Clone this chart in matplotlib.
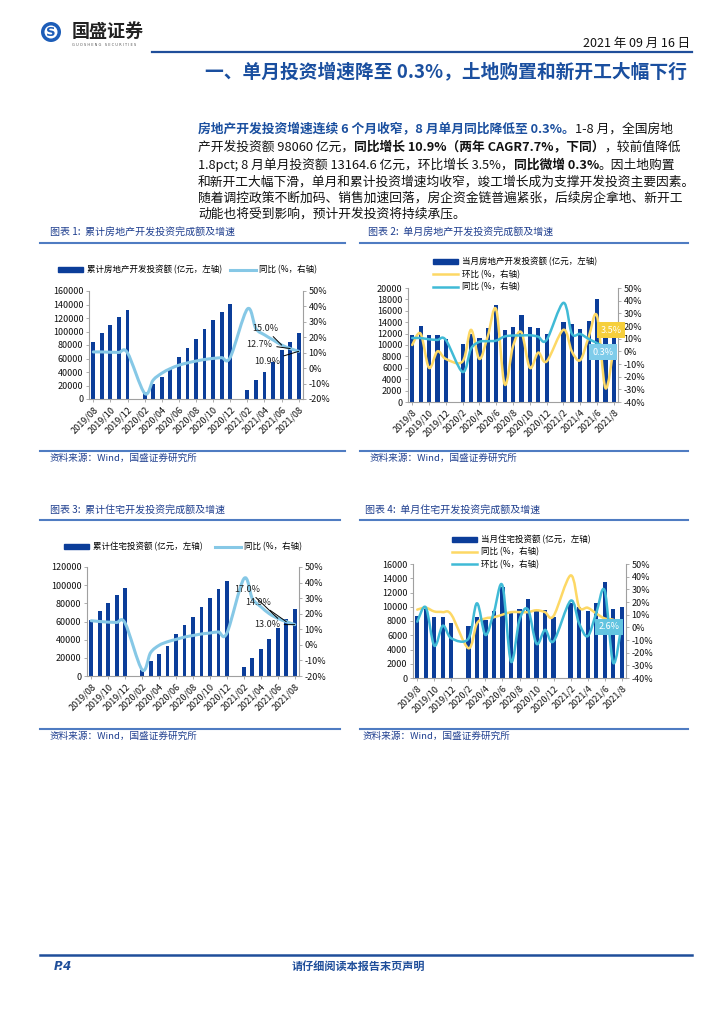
import numpy as np
import matplotlib
matplotlib.use('Agg')
import matplotlib.pyplot as plt
from matplotlib.path import Path
from matplotlib.patches import PathPatch, Patch, Circle
from matplotlib.lines import Line2D

plt.rcParams['font.family'] = ['Noto Sans CJK SC', 'DejaVu Sans']
plt.rcParams['axes.unicode_minus'] = False

nan = np.nan

# months 2019/08 .. 2021/08 (January has no release, combined with February)
months = ['2019/08', '2019/09', '2019/10', '2019/11', '2019/12',
          '2020/01', '2020/02', '2020/03', '2020/04', '2020/05', '2020/06',
          '2020/07', '2020/08', '2020/09', '2020/10', '2020/11', '2020/12',
          '2021/01', '2021/02', '2021/03', '2021/04', '2021/05', '2021/06',
          '2021/07', '2021/08']
months_short = [m.split('/')[0] + '/' + str(int(m.split('/')[1])) for m in months]

# chart 1: cumulative real estate development investment (100m yuan) and yoy %
cum_invest = [84589, 98008, 109603, 121265, 132194, nan, 10115, 21963, 33103, 45920,
              62780, 75458, 88454, 103484, 116556, 129492, 141443, nan, 13986, 27576,
              40240, 54318, 72179, 84895, 98060]
cum_invest_yoy = [10.5, 10.5, 10.3, 10.2, 9.9, nan, -16.3, -7.7, -3.3, -0.3, 1.9, 3.4,
                  4.6, 5.6, 6.3, 6.8, 7.0, nan, 38.3, 25.6, 21.6, 18.3, 15.0, 12.7, 10.9]

# chart 2: monthly real estate development investment, mom and yoy %
mon_invest = [11800, 13400, 11700, 11700, 11000, nan, 10100, 12000, 11300, 12900,
              17000, 12600, 13200, 15300, 13100, 13000, 12000, nan, 14000, 13700,
              12800, 14200, 18000, 12700, 13165]
mon_invest_mom = [5, 14, -13, 0, -6, nan, -8, 17, -6, 12, 33, -26, 4, 15, -13, -1, -8,
                  nan, 17, 0, -7, 11, 28, -29, 3.5]
mon_invest_yoy = [10.5, 10.5, 9.5, 9, 9, nan, -16.3, 2, 7.5, 8, 8.5, 11.7, 12.5, 12.5,
                  12.7, 11.6, 9, nan, 38.3, 14, 13.7, 9.8, 6.5, 3, 0.3]

# chart 3: cumulative residential investment and yoy %
cum_resi = [62000, 71500, 80400, 88800, 97070, nan, 6500, 16100, 23900, 33000, 45900,
            55800, 65000, 76300, 85900, 95400, 104446, nan, 10300, 20200, 30100, 40400,
            53200, 63100, 73800]
cum_resi_yoy = [15.5, 15, 14.6, 14.4, 13.9, nan, -16.0, -5, -0.3, 2, 3.5, 5, 6, 7, 7.6,
                8.3, 7.6, nan, 42.5, 29.7, 24.5, 20, 17.0, 14.9, 13.0]

# chart 4: monthly residential investment, yoy and mom %
mon_resi = [8700, 9900, 8500, 8500, 7750, nan, 7300, 8600, 8100, 9400, 12800, 9100,
            9750, 11100, 9400, 9500, 8550, nan, 10500, 10000, 9450, 10550, 13500, 9700,
            9950]
mon_resi_yoy = [14, 15.5, 12.5, 12, 10, nan, -16.5, 3, 7, 8, 10, 12, 12, 12, 13.5, 12,
                9, nan, 41, 16, 15.5, 11, 7, 6, 2.6]
mon_resi_mom = [4.5, 15.8, -14.5, 1.3, -8.7, nan, -9, 19, -6, 12, 33, -27, 6, 14, -13,
                -2, -11, nan, 21, 3, -7, 11, 29, -28, 2.6]

W, H = 724, 1024
BAR = '#0B3D99'
LIGHT = '#86C8E6'
YELLOW = '#FDD865'
CYAN = '#40BAD6'
NAVY = '#1F3F8F'
RULE = '#4F7CC2'
DARK_BLUE = '#1F4E9A'
TICK_FS = 6.5


def fx(x):
    return x / W


def fy(y):
    return 1 - y / H


def smooth_path(xs, ys):
    # Catmull-Rom style bezier through the points, like Excel's smoothed line
    p = np.array([(x, y) for x, y in zip(xs, ys) if not np.isnan(y)], float)
    verts = [p[0]]
    codes = [Path.MOVETO]
    n = len(p)
    for i in range(n - 1):
        p0 = p[i - 1] if i > 0 else p[i]
        p3 = p[i + 2] if i + 2 < n else p[i + 1]
        verts += [p[i] + (p[i + 1] - p0) / 6, p[i + 1] - (p3 - p[i]) / 6, p[i + 1]]
        codes += [Path.CURVE4] * 3
    return Path(verts, codes)


fig = plt.figure(figsize=(W / 100, H / 100), dpi=100)


def hline(x0, x1, y, color, lw):
    fig.add_artist(Line2D([fx(x0), fx(x1)], [fy(y), fy(y)], transform=fig.transFigure,
                          color=color, lw=lw))


def draw_chart(box, bars, lines, ylim_l, step_l, ylim_r, step_r, labels, bar_w):
    left, top, right, bottom = box
    ax = fig.add_axes([fx(left), fy(bottom), (right - left) / W, (bottom - top) / H])
    x = np.arange(len(months))
    ax.bar(x, bars, width=bar_w, color=BAR, zorder=2)
    ax.set_xlim(-0.5, len(x) - 0.5)
    ax.set_ylim(*ylim_l)
    ax.set_yticks(np.arange(ylim_l[0], ylim_l[1] + 1, step_l))
    ax.set_yticklabels([str(v) for v in np.arange(ylim_l[0], ylim_l[1] + 1, step_l)])
    ax.set_xticks(x[::2])
    ax.set_xticklabels(labels[::2], rotation=45, ha='right', rotation_mode='anchor')
    ax.tick_params(axis='both', labelsize=TICK_FS, length=2.5, width=0.6, color='#A0A0A0',
                   pad=1.5, labelcolor='#111111')
    for s in ['top', 'right']:
        ax.spines[s].set_visible(False)
    for s in ['left', 'bottom']:
        ax.spines[s].set_color('#A0A0A0')
        ax.spines[s].set_linewidth(0.8)

    ax2 = ax.twinx()
    ax2.set_ylim(*ylim_r)
    rt = np.arange(ylim_r[0], ylim_r[1] + 1, step_r)
    ax2.set_yticks(rt)
    ax2.set_yticklabels([f'{v}%' for v in rt])
    ax2.tick_params(axis='y', labelsize=TICK_FS, length=2.5, width=0.6, color='#A0A0A0',
                    pad=1.5, labelcolor='#111111')
    for s in ['top', 'left', 'bottom']:
        ax2.spines[s].set_visible(False)
    ax2.spines['right'].set_color('#A0A0A0')
    ax2.spines['right'].set_linewidth(0.8)
    for vals, color, lw in lines:
        ax2.add_patch(PathPatch(smooth_path(x, vals), fill=False, edgecolor=color, lw=lw,
                                capstyle='round', joinstyle='round'))
    return ax, ax2


# ---------------- header ----------------
fig.add_artist(Circle((51 / 100, (H - 32) / 100), 10 / 100, transform=fig.dpi_scale_trans,
                      fc='#1D5DB8', ec='none'))
fig.add_artist(Circle((51 / 100, (H - 32) / 100), 6.5 / 100, transform=fig.dpi_scale_trans,
                      fc='white', ec='none'))
fig.text(fx(51), fy(32.5), 'S', color='#1D5DB8', fontsize=9.5, fontweight='bold',
         ha='center', va='center', family='DejaVu Sans')
fig.text(fx(72), fy(31), '国盛证券', fontsize=13, fontweight='bold', color='#222222',
         ha='left', va='center')
fig.text(fx(72), fy(45), 'G U O S H E N G   S E C U R I T I E S', fontsize=2.6,
         color='#555555', ha='left', va='center', family='DejaVu Sans')
fig.text(fx(690), fy(43), '2021 年 09 月 16 日', fontsize=9, color='#111111',
         ha='right', va='center')
hline(152, 692, 52, DARK_BLUE, 1.6)
fig.text(fx(687), fy(73), '一、单月投资增速降至 0.3%，土地购置和新开工大幅下行', fontsize=13.5,
         fontweight='bold', color='#1A4F9F', ha='right', va='center')

# ---------------- paragraph ----------------
renderer = fig.canvas.get_renderer()
para = [
    [('房地产开发投资增速连续 6 个月收窄，8 月单月同比降低至 0.3%。', '#1A4F9F', 'bold'),
     ('1-8 月，全国房地', '#111111', 'normal')],
    [('产开发投资额 98060 亿元，', '#111111', 'normal'),
     ('同比增长 10.9%（两年 CAGR7.7%，下同）', '#111111', 'bold'),
     ('，较前值降低', '#111111', 'normal')],
    [('1.8pct; 8 月单月投资额 13164.6 亿元，环比增长 3.5%，', '#111111', 'normal'),
     ('同比微增 0.3%', '#111111', 'bold'),
     ('。因土地购置', '#111111', 'normal')],
    [('和新开工大幅下滑，单月和累计投资增速均收窄，竣工增长成为支撑开发投资主要因素。', '#111111', 'normal')],
    [('随着调控政策不断加码、销售加速回落，房企资金链普遍紧张，后续房企拿地、新开工', '#111111', 'normal')],
    [('动能也将受到影响，预计开发投资将持续承压。', '#111111', 'normal')],
]
line_y = [129, 147, 165, 182, 198, 214]
for runs, y in zip(para, line_y):
    x = 198
    for s, color, weight in runs:
        t = fig.text(fx(x), fy(y), s, color=color, fontsize=9.2, fontweight=weight,
                     ha='left', va='center')
        x = t.get_window_extent(renderer).x1

# ---------------- chart titles / rules / sources ----------------
titles = [(50, 233, '图表 1:  累计房地产开发投资完成额及增速'),
          (368, 233, '图表 2:  单月房地产开发投资完成额及增速'),
          (50, 511, '图表 3:  累计住宅开发投资完成额及增速'),
          (365, 511, '图表 4:  单月住宅开发投资完成额及增速')]
for x, y, s in titles:
    fig.text(fx(x), fy(y), s, fontsize=7.2, color=NAVY, ha='left', va='center')
hline(40, 345, 243, RULE, 1.5)
hline(360, 688, 243, RULE, 1.5)
hline(40, 340, 520, RULE, 1.5)
hline(360, 688, 520, RULE, 1.5)
hline(40, 345, 451, RULE, 1.5)
hline(360, 688, 451, RULE, 1.5)
hline(40, 340, 729, RULE, 1.5)
hline(360, 688, 729, RULE, 1.5)
for x, y in [(50, 458), (370, 458), (50, 736), (363, 736)]:
    fig.text(fx(x), fy(y), '资料来源：Wind，国盛证券研究所', fontsize=6.9, color=NAVY,
             ha='left', va='center')

# ---------------- chart 1 ----------------
ax1, ax1r = draw_chart((89, 291, 303, 399), cum_invest, [(cum_invest_yoy, LIGHT, 2.2)],
                       (0, 160000), 20000, (-20, 50), 10, months, 0.45)
for i, dx, dy in [(22, -12, 12), (23, -22, 3), (24, -23, -7)]:
    ax1r.annotate(f'{cum_invest_yoy[i]:.1f}%', xy=(i, cum_invest_yoy[i]), xytext=(dx, dy),
                  textcoords='offset points', ha='center', va='center', fontsize=TICK_FS,
                  color='#222222',
                  arrowprops=dict(arrowstyle='-', color='black', lw=0.7, shrinkA=1, shrinkB=0))
fig.legend([Patch(color=BAR), Line2D([], [], color=LIGHT, lw=2.2)],
           ['累计房地产开发投资额 (亿元，左轴)', '同比 (%，右轴)'], ncol=2, frameon=False,
           loc='center left', bbox_to_anchor=(fx(58), fy(270)), fontsize=6.1,
           handlelength=3, handleheight=0.5, columnspacing=1.0, handletextpad=0.4,
           borderpad=0, borderaxespad=0)

# ---------------- chart 2 ----------------
ax2, ax2r = draw_chart((408, 288, 618, 402), mon_invest,
                       [(mon_invest_mom, YELLOW, 1.8), (mon_invest_yoy, CYAN, 1.8)],
                       (0, 20000), 2000, (-40, 50), 10, months_short, 0.5)
ax2r.annotate('3.5%', xy=(24, mon_invest_mom[24]), xytext=(-2, 12), textcoords='offset points',
              ha='center', va='center', fontsize=TICK_FS, color='white',
              bbox=dict(boxstyle='square,pad=0.4', fc='#F6CF3C', ec='none'))
ax2r.annotate('0.3%', xy=(24, mon_invest_yoy[24]), xytext=(-8, -1), textcoords='offset points',
              ha='center', va='center', fontsize=TICK_FS, color='white',
              bbox=dict(boxstyle='square,pad=0.4', fc='#7FCCEA', ec='none'))
fig.legend([Patch(color=BAR), Line2D([], [], color=YELLOW, lw=1.8),
            Line2D([], [], color=CYAN, lw=1.8)],
           ['当月房地产开发投资额 (亿元，左轴)', '环比 (%，右轴)', '同比 (%，右轴)'],
           ncol=1, frameon=False, loc='upper left', bbox_to_anchor=(fx(433), fy(257)),
           fontsize=6.1, handlelength=3, handleheight=0.5, labelspacing=0.42,
           handletextpad=0.4, borderpad=0, borderaxespad=0)

# ---------------- chart 3 ----------------
ax3, ax3r = draw_chart((87, 567, 299, 676), cum_resi, [(cum_resi_yoy, LIGHT, 2.2)],
                       (0, 120000), 20000, (-20, 50), 10, months, 0.45)
for i, dx, dy in [(22, -22, 21), (23, -20, 14), (24, -20, 0)]:
    ax3r.annotate(f'{cum_resi_yoy[i]:.1f}%', xy=(i, cum_resi_yoy[i]), xytext=(dx, dy),
                  textcoords='offset points', ha='center', va='center', fontsize=TICK_FS,
                  color='#222222',
                  arrowprops=dict(arrowstyle='-', color='black', lw=0.7, shrinkA=1, shrinkB=0))
fig.legend([Patch(color=BAR), Line2D([], [], color=LIGHT, lw=2.2)],
           ['累计住宅投资额 (亿元，左轴)', '同比 (%，右轴)'], ncol=2, frameon=False,
           loc='center left', bbox_to_anchor=(fx(64), fy(547)), fontsize=6.1,
           handlelength=3, handleheight=0.5, columnspacing=1.5, handletextpad=0.4,
           borderpad=0, borderaxespad=0)

# ---------------- chart 4 ----------------
ax4, ax4r = draw_chart((413, 564, 626, 678), mon_resi,
                       [(mon_resi_yoy, YELLOW, 1.8), (mon_resi_mom, CYAN, 1.8)],
                       (0, 16000), 2000, (-40, 50), 10, months_short, 0.5)
ax4r.annotate('2.6%', xy=(24, mon_resi_mom[24]), xytext=(-9, -2), textcoords='offset points',
              ha='center', va='center', fontsize=TICK_FS, color='white',
              bbox=dict(boxstyle='square,pad=0.4', fc='#62C4E0', ec='none'))
fig.legend([Patch(color=BAR), Line2D([], [], color=YELLOW, lw=1.8),
            Line2D([], [], color=CYAN, lw=1.8)],
           ['当月住宅投资额 (亿元，左轴)', '同比 (%，右轴)', '环比 (%，右轴)'],
           ncol=1, frameon=False, loc='upper left', bbox_to_anchor=(fx(452), fy(535)),
           fontsize=6.1, handlelength=3, handleheight=0.5, labelspacing=0.38,
           handletextpad=0.4, borderpad=0, borderaxespad=0)

# ---------------- footer ----------------
hline(40, 692, 955, DARK_BLUE, 1.8)
fig.text(fx(54), fy(966), 'P.4', fontsize=8.5, fontweight='bold', style='italic',
         color=DARK_BLUE, ha='left', va='center', family='DejaVu Sans')
fig.text(fx(358), fy(966), '请仔细阅读本报告末页声明', fontsize=8, fontweight='bold',
         color=DARK_BLUE, ha='center', va='center')

fig.savefig('out.png', dpi=100)
